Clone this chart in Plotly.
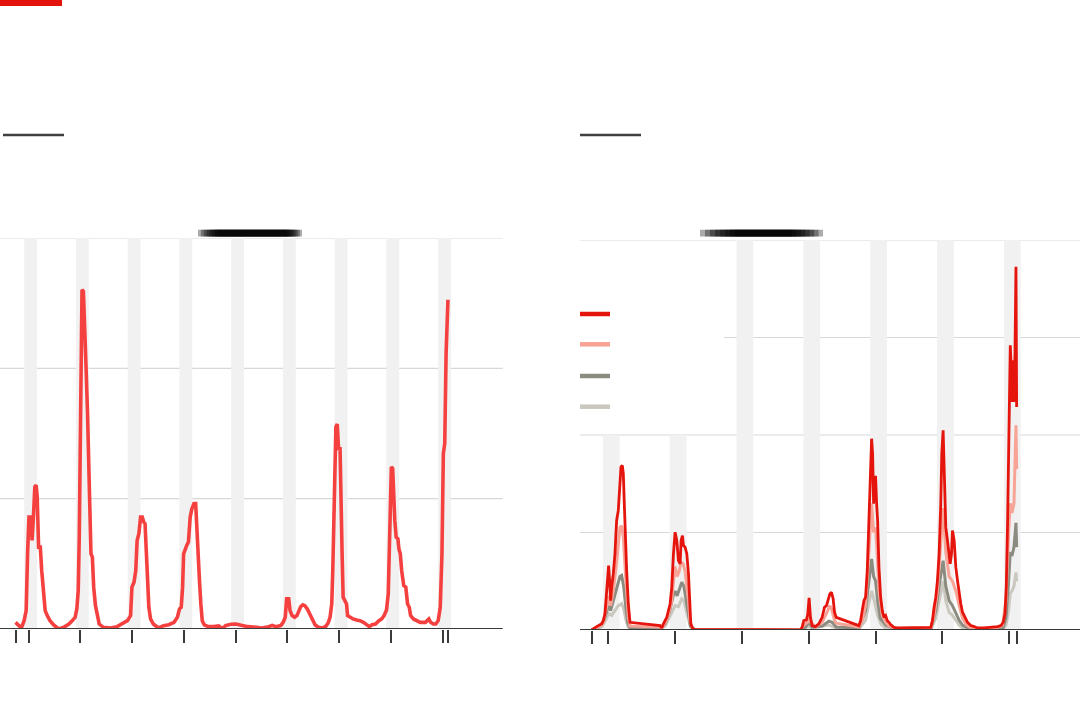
import plotly.graph_objects as go

W, H = 1080, 719

# ---------------- data: left panel (single series) ----------------
left_t = [2009.747, 2009.814, 2009.860, 2009.913, 2009.953, 2009.980, 2010.007, 2010.047, 2010.067, 2010.093,
          2010.120, 2010.146, 2010.166, 2010.193, 2010.226, 2010.253, 2010.286, 2010.320, 2010.360, 2010.413,
          2010.479, 2010.579, 2010.679, 2010.779, 2010.846, 2010.899, 2010.932, 2010.959, 2010.979, 2010.999,
          2011.019, 2011.032, 2011.059, 2011.073, 2011.092, 2011.112, 2011.139, 2011.158, 2011.178, 2011.205,
          2011.232, 2011.258, 2011.292, 2011.325, 2011.365, 2011.445, 2011.578, 2011.711, 2011.811, 2011.911,
          2011.971, 2011.997, 2012.037, 2012.071, 2012.097, 2012.131, 2012.164, 2012.197, 2012.224, 2012.250,
          2012.277, 2012.297, 2012.324, 2012.357, 2012.410, 2012.510, 2012.610, 2012.710, 2012.810, 2012.876,
          2012.916, 2012.950, 2012.976, 2012.996, 2013.023, 2013.056, 2013.089, 2013.123, 2013.156, 2013.196,
          2013.229, 2013.249, 2013.262, 2013.282, 2013.302, 2013.329, 2013.356, 2013.395, 2013.475, 2013.575,
          2013.675, 2013.742, 2013.808, 2013.908, 2014.008, 2014.108, 2014.241, 2014.407, 2014.507, 2014.641,
          2014.707, 2014.774, 2014.874, 2014.920, 2014.960, 2014.987, 2015.027, 2015.053, 2015.093, 2015.140,
          2015.186, 2015.226, 2015.260, 2015.300, 2015.340, 2015.386, 2015.419, 2015.453, 2015.493, 2015.539,
          2015.606, 2015.672, 2015.739, 2015.786, 2015.826, 2015.859, 2015.879, 2015.906, 2015.939, 2015.965,
          2015.992, 2016.019, 2016.039, 2016.059, 2016.079, 2016.112, 2016.145, 2016.165, 2016.205, 2016.272,
          2016.338, 2016.405, 2016.471, 2016.538, 2016.585, 2016.638, 2016.704, 2016.771, 2016.824, 2016.871,
          2016.917, 2016.951, 2016.971, 2016.991, 2017.011, 2017.037, 2017.057, 2017.077, 2017.104, 2017.137,
          2017.157, 2017.184, 2017.210, 2017.250, 2017.290, 2017.324, 2017.357, 2017.383, 2017.437, 2017.503,
          2017.570, 2017.670, 2017.736, 2017.770, 2017.823, 2017.870, 2017.916, 2017.956, 2017.989, 2018.016,
          2018.043, 2018.069, 2018.105]
left_v = [0.051, 0.026, 0.008, 0.064, 0.141, 0.577, 0.859, 0.859, 0.679, 0.859,
          1.090, 1.103, 1.013, 0.628, 0.628, 0.449, 0.295, 0.141, 0.103, 0.064,
          0.033, 0.000, 0.013, 0.038, 0.064, 0.090, 0.154, 0.295, 0.705, 1.474,
          2.244, 2.603, 2.590, 2.372, 2.346, 1.987, 1.654, 1.346, 0.910, 0.577,
          0.551, 0.321, 0.179, 0.103, 0.038, 0.013, 0.008, 0.018, 0.038, 0.064,
          0.103, 0.321, 0.359, 0.449, 0.679, 0.731, 0.859, 0.859, 0.821, 0.808,
          0.577, 0.397, 0.167, 0.077, 0.038, 0.008, 0.026, 0.033, 0.051, 0.090,
          0.154, 0.167, 0.321, 0.577, 0.615, 0.641, 0.667, 0.859, 0.923, 0.962,
          0.962, 0.782, 0.577, 0.526, 0.372, 0.192, 0.064, 0.031, 0.018, 0.018,
          0.023, 0.003, 0.026, 0.036, 0.038, 0.028, 0.018, 0.013, 0.008, 0.018,
          0.028, 0.018, 0.026, 0.051, 0.090, 0.231, 0.231, 0.141, 0.103, 0.090,
          0.103, 0.141, 0.172, 0.185, 0.179, 0.154, 0.128, 0.090, 0.064, 0.031,
          0.013, 0.008, 0.018, 0.044, 0.090, 0.192, 0.449, 0.962, 1.551, 1.572,
          1.372, 1.397, 0.833, 0.577, 0.244, 0.218, 0.192, 0.103, 0.090, 0.077,
          0.069, 0.064, 0.051, 0.033, 0.018, 0.033, 0.038, 0.064, 0.077, 0.103,
          0.146, 0.269, 0.577, 0.936, 1.244, 1.231, 0.885, 0.833, 0.705, 0.692,
          0.615, 0.577, 0.449, 0.333, 0.321, 0.192, 0.167, 0.103, 0.077, 0.064,
          0.051, 0.051, 0.077, 0.051, 0.038, 0.038, 0.064, 0.167, 0.577, 1.346,
          1.423, 2.115, 2.526]

left_ticks = [2009.76, 2010, 2011, 2012, 2013, 2014, 2015, 2016, 2017, 2018, 2018.11]
left_winters = [2010, 2011, 2012, 2013, 2014, 2015, 2016, 2017, 2018]

# ---------------- data: right panel (four series) ----------------
red_t = [2011.750, 2011.800, 2011.850, 2011.900, 2011.925, 2011.950, 2011.975, 2011.990, 2012.005, 2012.020,
         2012.035, 2012.050, 2012.075, 2012.100, 2012.125, 2012.150, 2012.175, 2012.190, 2012.210, 2012.225,
         2012.240, 2012.255, 2012.275, 2012.300, 2012.325, 2012.775, 2012.800, 2012.825, 2012.875, 2012.925,
         2012.950, 2012.975, 2013.000, 2013.025, 2013.050, 2013.075, 2013.090, 2013.110, 2013.125, 2013.150,
         2013.175, 2013.200, 2013.215, 2013.235, 2013.260, 2013.285, 2014.875, 2014.900, 2014.925, 2014.965,
         2014.985, 2015.005, 2015.025, 2015.050, 2015.100, 2015.150, 2015.200, 2015.235, 2015.265, 2015.290,
         2015.315, 2015.340, 2015.365, 2015.385, 2015.410, 2015.750, 2015.775, 2015.800, 2015.825, 2015.850,
         2015.875, 2015.900, 2015.925, 2015.940, 2015.955, 2015.970, 2015.985, 2016.000, 2016.015, 2016.030,
         2016.050, 2016.075, 2016.100, 2016.125, 2016.150, 2016.175, 2016.200, 2016.225, 2016.275, 2016.325,
         2016.825, 2016.850, 2016.875, 2016.900, 2016.925, 2016.950, 2016.975, 2016.990, 2017.010, 2017.025,
         2017.050, 2017.075, 2017.100, 2017.115, 2017.135, 2017.150, 2017.175, 2017.200, 2017.225, 2017.250,
         2017.275, 2017.300, 2017.325, 2017.350, 2017.375, 2017.400, 2017.425, 2017.475, 2017.525, 2017.625,
         2017.725, 2017.825, 2017.875, 2017.910, 2017.935, 2017.955, 2017.975, 2017.990, 2018.005, 2018.015,
         2018.030, 2018.040, 2018.055, 2018.070, 2018.085, 2018.100, 2018.110]
red_v = [0.000, 0.027, 0.045, 0.062, 0.096, 0.164, 0.438, 0.575, 0.661, 0.507,
         0.301, 0.438, 0.575, 0.781, 1.123, 1.226, 1.466, 1.671, 1.688, 1.603,
         1.295, 0.952, 0.610, 0.267, 0.079, 0.045, 0.021, 0.062, 0.130, 0.267,
         0.438, 0.781, 1.003, 0.918, 0.712, 0.678, 0.918, 0.969, 0.866, 0.849,
         0.781, 0.575, 0.267, 0.062, 0.021, 0.007, 0.000, 0.027, 0.096, 0.103,
         0.164, 0.329, 0.130, 0.045, 0.034, 0.062, 0.130, 0.233, 0.250, 0.301,
         0.370, 0.387, 0.318, 0.182, 0.130, 0.045, 0.096, 0.199, 0.301, 0.336,
         0.610, 1.123, 1.808, 1.962, 1.808, 1.295, 1.568, 1.568, 1.295, 1.123,
         0.644, 0.336, 0.199, 0.130, 0.147, 0.096, 0.079, 0.055, 0.027, 0.021,
         0.027, 0.096, 0.233, 0.336, 0.507, 0.781, 1.295, 1.808, 2.048, 1.637,
         1.055, 0.918, 0.781, 0.678, 0.781, 1.021, 0.918, 0.644, 0.507, 0.370,
         0.267, 0.182, 0.147, 0.113, 0.079, 0.062, 0.045, 0.034, 0.021, 0.021,
         0.027, 0.034, 0.045, 0.079, 0.164, 0.438, 1.123, 1.808, 2.664, 2.921,
         2.664, 2.339, 2.767, 2.339, 2.836, 3.726, 2.288]

salmon_t = [2011.750, 2011.850, 2011.925, 2011.975, 2012.005, 2012.035, 2012.075, 2012.125, 2012.175, 2012.200,
            2012.225, 2012.255, 2012.280, 2012.300, 2012.325, 2012.775, 2012.800, 2012.850, 2012.900, 2012.950,
            2012.975, 2013.000, 2013.030, 2013.060, 2013.090, 2013.120, 2013.150, 2013.180, 2013.200, 2013.220,
            2013.260, 2013.285, 2014.875, 2014.925, 2014.985, 2015.005, 2015.030, 2015.100, 2015.200, 2015.265,
            2015.315, 2015.340, 2015.385, 2015.410, 2015.750, 2015.800, 2015.850, 2015.900, 2015.940, 2015.970,
            2016.000, 2016.030, 2016.050, 2016.100, 2016.150, 2016.200, 2016.300, 2016.825, 2016.875, 2016.925,
            2016.975, 2017.010, 2017.050, 2017.100, 2017.150, 2017.200, 2017.250, 2017.300, 2017.350, 2017.400,
            2017.500, 2017.800, 2017.900, 2017.950, 2017.990, 2018.015, 2018.040, 2018.070, 2018.100, 2018.110]
salmon_v = [0.00, 0.03, 0.07, 0.25, 0.35, 0.25, 0.40, 0.70, 1.05, 1.07,
            0.95, 0.60, 0.30, 0.12, 0.04, 0.03, 0.02, 0.07, 0.15, 0.30,
            0.50, 0.65, 0.55, 0.60, 0.70, 0.68, 0.60, 0.45, 0.30, 0.10,
            0.02, 0.005, 0.00, 0.05, 0.08, 0.20, 0.08, 0.03, 0.08, 0.17,
            0.25, 0.22, 0.10, 0.07, 0.03, 0.10, 0.25, 0.80, 1.30, 1.00,
            1.05, 0.70, 0.40, 0.15, 0.08, 0.04, 0.015, 0.02, 0.15, 0.40,
            0.90, 1.25, 0.80, 0.55, 0.50, 0.40, 0.25, 0.12, 0.06, 0.03,
            0.015, 0.02, 0.05, 0.30, 1.00, 1.30, 1.20, 1.30, 2.10, 1.65]

dgray_t = [2011.750, 2011.850, 2011.925, 2011.975, 2012.005, 2012.035, 2012.075, 2012.125, 2012.175, 2012.200,
           2012.230, 2012.260, 2012.290, 2012.325, 2012.775, 2012.850, 2012.920, 2012.970, 2013.000, 2013.030,
           2013.070, 2013.100, 2013.130, 2013.170, 2013.200, 2013.230, 2013.285, 2014.875, 2014.950, 2015.005,
           2015.050, 2015.200, 2015.300, 2015.350, 2015.410, 2015.750, 2015.850, 2015.900, 2015.940, 2015.970,
           2016.000, 2016.030, 2016.070, 2016.150, 2016.300, 2016.825, 2016.900, 2016.960, 2017.010, 2017.050,
           2017.100, 2017.150, 2017.200, 2017.250, 2017.300, 2017.400, 2017.900, 2017.950, 2017.990, 2018.015,
           2018.040, 2018.070, 2018.100, 2018.110]
dgray_v = [0.00, 0.03, 0.08, 0.20, 0.25, 0.20, 0.30, 0.42, 0.55, 0.56,
           0.45, 0.25, 0.08, 0.02, 0.02, 0.06, 0.20, 0.35, 0.40, 0.35,
           0.42, 0.49, 0.45, 0.30, 0.15, 0.04, 0.005, 0.00, 0.03, 0.08,
           0.03, 0.04, 0.09, 0.08, 0.03, 0.02, 0.20, 0.50, 0.73, 0.55,
           0.50, 0.30, 0.12, 0.05, 0.01, 0.01, 0.20, 0.50, 0.71, 0.45,
           0.30, 0.25, 0.18, 0.10, 0.05, 0.015, 0.01, 0.12, 0.50, 0.80,
           0.76, 0.85, 1.10, 0.85]

lgray_t = [2011.750, 2011.900, 2011.975, 2012.005, 2012.050, 2012.100, 2012.150, 2012.200, 2012.230, 2012.260,
           2012.290, 2012.325, 2012.775, 2012.850, 2012.930, 2013.000, 2013.050, 2013.100, 2013.130, 2013.170,
           2013.200, 2013.230, 2013.285, 2014.875, 2015.000, 2015.050, 2015.300, 2015.410, 2015.750, 2015.850,
           2015.900, 2015.940, 2015.980, 2016.030, 2016.080, 2016.150, 2016.300, 2016.825, 2016.900, 2016.960,
           2017.010, 2017.050, 2017.100, 2017.150, 2017.200, 2017.250, 2017.300, 2017.900, 2017.950, 2017.990,
           2018.015, 2018.040, 2018.070, 2018.100, 2018.110]
lgray_v = [0.00, 0.03, 0.12, 0.17, 0.15, 0.20, 0.25, 0.27, 0.22, 0.12,
           0.04, 0.01, 0.01, 0.04, 0.15, 0.25, 0.24, 0.32, 0.30, 0.20,
           0.10, 0.03, 0.00, 0.00, 0.04, 0.02, 0.05, 0.02, 0.01, 0.10,
           0.28, 0.40, 0.30, 0.15, 0.06, 0.02, 0.005, 0.005, 0.12, 0.35,
           0.50, 0.30, 0.18, 0.15, 0.10, 0.05, 0.02, 0.005, 0.05, 0.20,
           0.38, 0.40, 0.45, 0.59, 0.50]

right_ticks = [2011.75, 2012, 2013, 2014, 2015, 2016, 2017, 2018, 2018.11]
right_winters = [2012, 2013, 2014, 2015, 2016, 2017, 2018]
right_grid = [1, 2, 3, 4]

# ---------------- styling ----------------
RED = "#e5140c"
LEFT_RED = "#f54040"
SALMON = "#f7a395"
DGRAY = "#8c8b80"
LGRAY = "#c9c7be"
BAND = "#f1f1f1"
GRID = "#d8d8d8"
AXIS = "#3a3a3a"


def px(x):
    return x / W


def py(y):
    return 1 - y / H


L_DOM_X = [0, px(502.7)]
L_DOM_Y = [py(629), py(238)]
R_DOM_X = [px(580), 1.0]
R_DOM_Y = [py(630), py(240)]

fig = go.Figure()

fig.add_trace(go.Scatter(x=left_t, y=left_v, mode="lines", xaxis="x", yaxis="y",
                         line=dict(color=LEFT_RED, width=3.6), hoverinfo="skip"))

for t, v, c, w in [(lgray_t, lgray_v, LGRAY, 3), (dgray_t, dgray_v, DGRAY, 3),
                   (salmon_t, salmon_v, SALMON, 3), (red_t, red_v, RED, 2.8)]:
    fig.add_trace(go.Scatter(x=t, y=v, mode="lines", xaxis="x2", yaxis="y2",
                             line=dict(color=c, width=w), hoverinfo="skip"))

shapes = []
# winter bands
for yr in left_winters:
    shapes.append(dict(type="rect", xref="x", yref="y", x0=yr - 0.085, x1=yr + 0.163, y0=0, y1=3,
                       fillcolor=BAND, line=dict(width=0), layer="below"))
for i, yr in enumerate(right_winters):
    top = 2 if i < 2 else 4
    shapes.append(dict(type="rect", xref="x2", yref="y2", x0=yr - 0.08, x1=yr + 0.17, y0=0, y1=top,
                       fillcolor=BAND, line=dict(width=0), layer="below"))
# gridlines
for g in [1, 2, 3]:
    shapes.append(dict(type="line", xref="paper", yref="y", x0=L_DOM_X[0], x1=L_DOM_X[1], y0=g, y1=g,
                       line=dict(color=GRID, width=1.2), layer="below"))
for g in right_grid:
    x0 = px(724) if g == 3 else R_DOM_X[0]
    shapes.append(dict(type="line", xref="paper", yref="y2", x0=x0, x1=1, y0=g, y1=g,
                       line=dict(color=GRID, width=1.2), layer="below"))
# baselines
shapes.append(dict(type="line", xref="paper", yref="y", x0=L_DOM_X[0], x1=L_DOM_X[1], y0=0, y1=0,
                   line=dict(color=AXIS, width=2)))
shapes.append(dict(type="line", xref="paper", yref="y2", x0=R_DOM_X[0], x1=1, y0=0, y1=0,
                   line=dict(color=AXIS, width=2)))

# top red bar and panel rules
shapes.append(dict(type="rect", xref="paper", yref="paper", x0=0, x1=px(62), y0=py(6), y1=1,
                   fillcolor="#e3120b", line=dict(width=0)))
for x0, x1 in [(3, 64), (580, 641)]:
    shapes.append(dict(type="rect", xref="paper", yref="paper", x0=px(x0), x1=px(x1), y0=py(136.3), y1=py(133.7),
                       fillcolor="#3f3f3f", line=dict(width=0)))

# legend keys
for yk, c in [(314, RED), (344.3, SALMON), (376, DGRAY), (406.7, LGRAY)]:
    shapes.append(dict(type="line", xref="paper", yref="paper", x0=px(580), x1=px(610), y0=py(yk), y1=py(yk),
                       line=dict(color=c, width=4.5)))

# blurred dark bars
for (ox0, ox1, cx0, cx1) in [(198, 302, 218, 287), (700, 823, 735, 792)]:
    n = 8
    for k in range(n):
        f = k / (n - 1)
        xa = ox0 + (cx0 - ox0) * f
        xb = ox1 - (ox1 - cx1) * f
        shapes.append(dict(type="rect", xref="paper", yref="paper", x0=px(xa), x1=px(xb),
                           y0=py(236.5), y1=py(229.8), fillcolor="black", opacity=0.33,
                           line=dict(width=0)))

common_x = dict(showgrid=False, zeroline=False, showticklabels=False, ticks="outside",
                ticklen=13, tickwidth=1.6, tickcolor=AXIS, showline=False, fixedrange=True)
common_y = dict(showgrid=False, zeroline=False, showticklabels=False, ticks="", showline=False,
                fixedrange=True)

fig.update_layout(
    width=W, height=H,
    margin=dict(l=0, r=0, t=0, b=0),
    paper_bgcolor="white", plot_bgcolor="rgba(0,0,0,0)",
    showlegend=False,
    xaxis=dict(domain=L_DOM_X, range=[2009.447, 2019.163], tickmode="array", tickvals=left_ticks,
               anchor="y", **common_x),
    yaxis=dict(domain=L_DOM_Y, range=[0, 3], anchor="x", **common_y),
    xaxis2=dict(domain=R_DOM_X, range=[2011.577, 2019.058], tickmode="array", tickvals=right_ticks,
                anchor="y2", **common_x),
    yaxis2=dict(domain=R_DOM_Y, range=[0, 4], anchor="x2", **common_y),
    shapes=shapes,
)

fig.write_html("out.html", config={"displayModeBar": False},
               post_script="document.body.style.margin='0';document.body.style.overflow='hidden';")
